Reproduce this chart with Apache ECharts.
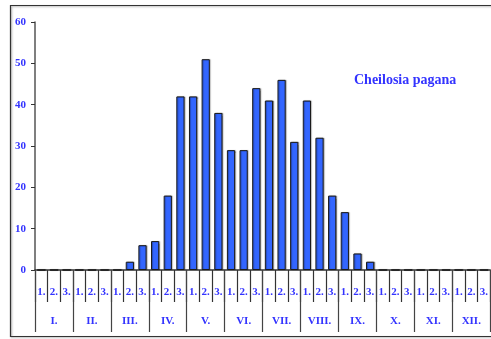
<!DOCTYPE html>
<html>
<head>
<meta charset="utf-8">
<script src="https://cdn.jsdelivr.net/npm/echarts@6/dist/echarts.min.js"></script>
<style>html,body{margin:0;padding:0;background:#fff;overflow:hidden}#c{width:491px;height:339px}</style>
</head>
<body>
<div id="c"></div>
<script>
const decades = ["1.","2.","3."];
const months = ["I.","II.","III.","IV.","V.","VI.","VII.","VIII.","IX.","X.","XI.","XII."];
const counts = [0,0,0, 0,0,0, 0,2,6, 7,18,42, 42,51,38, 29,29,44, 41,46,31, 41,32,18, 14,4,2, 0,0,0, 0,0,0, 0,0,0];
const yTicks = {min:0, max:60, interval:10};
const titleText = "Cheilosia pagana";

const categories = [];
months.forEach(m => decades.forEach(d => categories.push(d)));
const blue = '#3333FF';
const font = '"Liberation Serif", "DejaVu Serif", serif';

const chart = echarts.init(document.getElementById('c'), null, {renderer:'canvas'});
chart.setOption({
  animation:false,
  title:{text:titleText, left:349, top:68, textStyle:{color:blue, fontFamily:font, fontWeight:'bold', fontSize:14}},
  grid:{left:35, right:-2, top:22, bottom:69, containLabel:false},
  graphic:[{type:'polyline', shape:{points:[[600,5.5],[10.5,5.5],[10.5,336.5],[600,336.5]]}, style:{fill:null, stroke:'#333', lineWidth:1.2, shadowColor:'rgba(0,0,0,0.35)', shadowBlur:2, shadowOffsetX:1, shadowOffsetY:1}, z:-1}],
  xAxis:[
    {type:'category', data:categories, position:'bottom', boundaryGap:true,
     axisLine:{lineStyle:{color:'#333', width:1.5}},
     axisTick:{show:true, interval:0, length:32, lineStyle:{color:'#333', width:1.2}},
     axisLabel:{interval:0, margin:17, color:blue, fontFamily:font, fontWeight:'bold', fontSize:11}},
    {type:'category', data:months, position:'bottom', boundaryGap:true,
     axisLine:{show:false},
     axisTick:{show:true, interval:0, length:62, lineStyle:{color:'#444', width:1.2}},
     axisLabel:{interval:0, margin:46, color:blue, fontFamily:font, fontWeight:'bold', fontSize:11}}
  ],
  yAxis:{type:'value', min:yTicks.min, max:yTicks.max, interval:yTicks.interval,
    axisLine:{show:true, lineStyle:{color:'#555', width:1.5}},
    axisTick:{show:true, length:4, lineStyle:{color:'#333'}},
    splitLine:{show:false},
    axisLabel:{margin:9, color:blue, fontFamily:font, fontWeight:'bold', fontSize:11}},
  series:[{type:'bar', data:counts, barWidth:'65%', xAxisIndex:0,
    itemStyle:{color:'#3366FF', borderColor:'#1a1a1a', borderWidth:1,
      shadowColor:'rgba(0,0,0,0.3)', shadowOffsetX:1, shadowOffsetY:0, shadowBlur:1}}]
});
</script>
</body>
</html>
